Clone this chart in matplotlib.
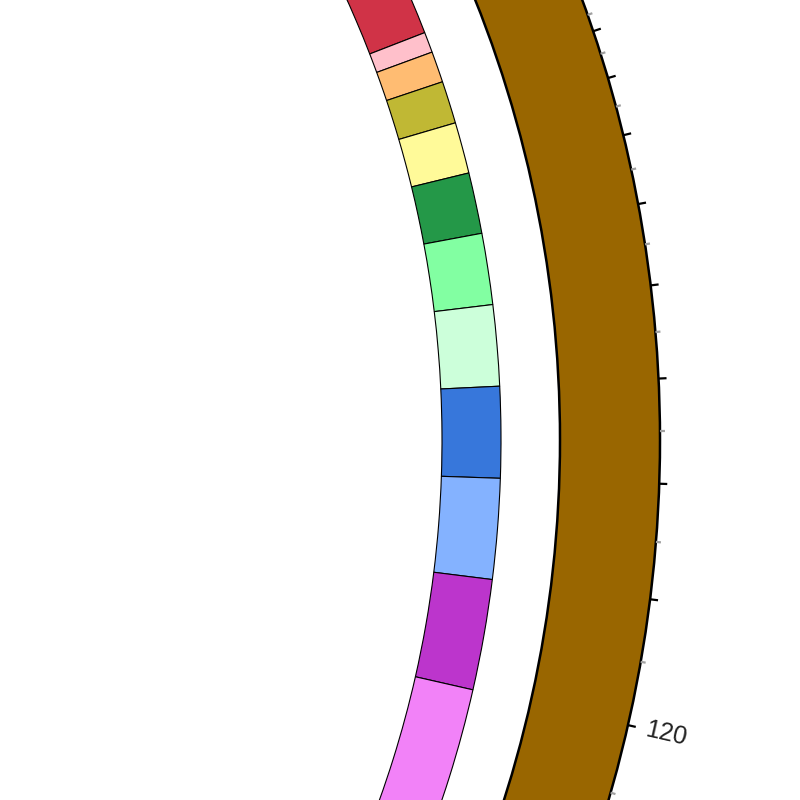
# Ring segments and brown outer track, seen at close range.
import numpy as np
import matplotlib
matplotlib.use('Agg')
from matplotlib import pyplot as plt

# Segment edges (degrees, counter-clockwise from east).
seg_edges = [25.0, 21.21, 20.15, 18.55, 16.36, 13.72, 10.58, 6.91, 2.74,
             -1.95, -7.12, -12.82, -22.0]
seg_colors = ['#d03347', '#ffc0cb', '#ffbc72', '#c0b834', '#fffa99',
              '#249848', '#82ffa2', '#ccffda', '#3777db', '#84b2ff',
              '#bc35cc', '#f282f8']

# Outer track and its ticks.
track_span = (-25.0, 25.0)
major_ticks = [21.21, 20.15, 18.55, 16.36, 13.72, 10.58, 6.91, 2.74,
               -1.95, -7.12, -12.82]
minor_ticks = [19.32, 17.49, 15.04, 12.15, 8.76, 4.82, 0.40, -4.55,
               -9.94, -15.93]
tick_labels = {-12.82: '120'}

# Radii in pixels of the full chart.
R_MAX = 1300
ring_in, ring_out = 1067, 1126
track_in, track_out = 1185, 1285

fig = plt.figure(figsize=(8, 8), dpi=100)
cx, cy = -625 / 800, (800 - 440) / 800
size = 2 * R_MAX / 800
ax = fig.add_axes([cx - size / 2, cy - size / 2, size, size],
                  projection='polar')
ax.set_rlim(0, R_MAX)

# Inner ring of coloured segments.
starts = np.radians(seg_edges[:-1])
ends = np.radians(seg_edges[1:])
ax.bar((starts + ends) / 2, ring_out - ring_in, width=np.abs(starts - ends),
       bottom=ring_in, color=seg_colors, edgecolor='black', linewidth=0.8)

# Brown outer track.
t0, t1 = np.radians(track_span)
ax.bar((t0 + t1) / 2, track_out - track_in, width=t1 - t0, bottom=track_in,
       color='#996600', edgecolor='black', linewidth=1.8)

# Ticks on the outer edge.
ax.vlines(np.radians(minor_ticks), track_out, track_out + 5,
          color='#a0a0a0', linewidth=1.6)
ax.vlines(np.radians(major_ticks), track_out, track_out + 8,
          color='black', linewidth=1.6)
for ang, lab in tick_labels.items():
    ax.text(np.radians(ang), track_out + 39, lab, rotation=ang,
            rotation_mode='anchor', ha='center', va='center',
            fontsize=18, family='Liberation Sans', color='#222222')

ax.axis('off')
fig.savefig('out.png', dpi=100, facecolor='white')
